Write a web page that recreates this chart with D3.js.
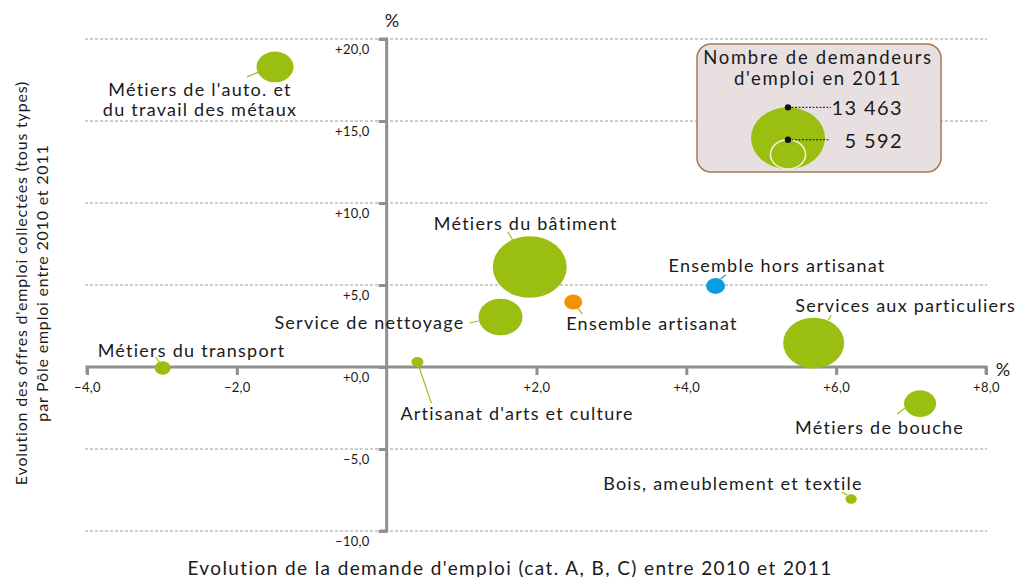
<!DOCTYPE html>
<html><head><meta charset="utf-8">
<script src="https://cdn.jsdelivr.net/npm/d3@7"></script>
<style>body{margin:0;background:#fff}svg{display:block}text{font-family:Lato,"Open Sans",sans-serif;fill:#1a1a1a}</style>
</head><body><svg id="c" width="1019" height="577"></svg>
<script>
// ---- data ----
const names = ["Métiers de l'auto. et\ndu travail des métaux","Métiers du bâtiment","Service de nettoyage","Ensemble artisanat","Ensemble hors artisanat","Services aux particuliers","Métiers de bouche","Bois, ameublement et textile","Artisanat d'arts et culture","Métiers du transport"];
const groups = ["metier","metier","metier","artisanat","hors","metier","metier","metier","metier","metier"];
const demandeEvol = [-1.49, 1.91, 1.52, 2.49, 4.39, 5.70, 7.12, 6.20, 0.41, -2.99];
const offresEvol = [18.3, 6.1, 3.05, 3.96, 4.94, 1.46, -2.23, -8.05, 0.3, -0.06];
const demandeurs = [5960, 13463, 7310, 2555, 2720, 10730, 5020, 1500, 1585, 2220];
const xTicks = [-4, -2, 2, 4, 6, 8];
const yTicks = [20, 15, 10, 5, 0, -5, -10];
const legendValues = [13463, 5592];
const legendLabels = ["13 463", "5 592"];

// ---- layout (label offsets relative to bubble centre) ----
const labelLayout = [
  {dx:-75, dy:22, anchor:"middle", lh:20, l:[-28,10,-16,5]},
  {dx:-96, dy:-44, anchor:"start", l:[-22,-35,-17,-27]},
  {dx:-36, dy:5, anchor:"end", l:[-31,6,-22,4]},
  {dx:-7, dy:21, anchor:"start", l:[4,5,9,12]},
  {dx:61.5, dy:-21, anchor:"middle", l:[5,-7,10,-11]},
  {dx:-18.5, dy:-38, anchor:"start", l:[17.5,-28,14.5,-23]},
  {dx:-125, dy:23.5, anchor:"start", l:[-23,10.5,-15,4.5]},
  {dx:-248, dy:-16, anchor:"start", l:[-9,-7,-4,-4]},
  {dx:-17, dy:51, anchor:"start", l:[0,0,14,41]},
  {dx:-65, dy:-18, anchor:"start", l:[-7,-11,-2,-4]}
];
const colorOf = {metier:"#9bbf10", artisanat:"#f39200", hors:"#0b9ddf"};
const stretch = 1.2;

const svg = d3.select("#c");
const x = d3.scaleLinear().domain([-4, 8]).range([87, 986]);
const y = d3.scaleLinear().domain([-10, 20]).range([531, 39]);
const r = d3.scalePow().exponent(0.85).domain([0, 13463]).range([0, 37]);
const axisCol = "#8f8f8f";
const fmt = d => d3.format(".1f")(d).replace(".", ",");

// gridlines
svg.append("g").selectAll("line").data(yTicks.filter(d => d !== 0)).join("line")
  .attr("x1", 85).attr("x2", 987).attr("y1", d => y(d)).attr("y2", d => y(d))
  .attr("stroke", "#9a9a9a").attr("stroke-width", 1).attr("stroke-dasharray", "3,2");

// x axis
const gx = svg.append("g").attr("transform", `translate(0,${y(0)})`)
  .call(d3.axisBottom(x).tickValues(xTicks).tickSize(8).tickFormat(d => (d > 0 ? "+" : "") + fmt(d)));
gx.select(".domain").attr("stroke", axisCol).attr("stroke-width", 3).attr("d", `M${x(-4)},7V0H${x(8)}V7`);
gx.selectAll(".tick line").attr("stroke", axisCol).attr("stroke-width", 3);
gx.selectAll(".tick text").attr("dy", "1.1em").style("font-family", "Lato").style("font-size", "13px").style("letter-spacing", "0.3px").attr("fill", "#1a1a1a");

// y axis
const gy = svg.append("g").attr("transform", `translate(${x(0)},0)`)
  .call(d3.axisLeft(y).tickValues(yTicks).tickSize(8).tickFormat(d => (d >= 0 ? "+" : "") + fmt(d)));
gy.select(".domain").attr("stroke", axisCol).attr("stroke-width", 3).attr("d", `M-7,${y(20)}H0V${y(-10)}H-7`);
gy.selectAll(".tick line").attr("stroke", axisCol).attr("stroke-width", 3);
gy.selectAll(".tick text").attr("x", -17).attr("dy", "1.1em").style("font-family", "Lato").style("font-size", "13px").style("letter-spacing", "0.3px").attr("fill", "#1a1a1a");

svg.append("text").attr("x", 392).attr("y", 20).attr("text-anchor", "middle").attr("dominant-baseline", "central").style("font-size", "18px").text("%");
svg.append("text").attr("x", 1003).attr("y", 369).attr("text-anchor", "middle").attr("dominant-baseline", "central").style("font-size", "18px").text("%");

// bubbles
const pts = names.map((n, i) => ({n, g: groups[i], x: demandeEvol[i], y: offresEvol[i], v: demandeurs[i], L: labelLayout[i]}));
const gb = svg.append("g");
pts.forEach(p => {
  const cx = x(p.x), cy = y(p.y), col = colorOf[p.g];
  gb.append("line").attr("x1", cx + p.L.l[0]).attr("y1", cy + p.L.l[1]).attr("x2", cx + p.L.l[2]).attr("y2", cy + p.L.l[3])
    .attr("stroke", col).attr("stroke-width", 1.2);
});
gb.selectAll("ellipse").data(pts.slice().sort((a, b) => b.v - a.v)).join("ellipse")
  .attr("cx", d => x(d.x)).attr("cy", d => y(d.y))
  .attr("rx", d => r(d.v)).attr("ry", d => r(d.v) / stretch)
  .attr("fill", d => colorOf[d.g]);
pts.forEach(p => {
  const cx = x(p.x), cy = y(p.y);
  const lines = p.n.split("\n");
  const t = gb.append("text").attr("text-anchor", p.L.anchor).style("font-size", "18px").style("letter-spacing", "1.25px");
  lines.forEach((ln, k) => t.append("tspan").attr("x", cx + p.L.dx).attr("y", cy + p.L.dy + k * (p.L.lh || 0)).attr("dominant-baseline", "central").text(ln));
});

// legend
const lg = svg.append("g");
lg.append("rect").attr("x", 697).attr("y", 44).attr("width", 244).attr("height", 128).attr("rx", 14)
  .attr("fill", "#e8e0e0").attr("stroke", "#a77a52").attr("stroke-width", 1.5);
lg.append("text").attr("x", 818).attr("y", 57).attr("text-anchor", "middle").attr("dominant-baseline", "central").style("font-size", "18.5px").style("letter-spacing", "1.7px").text("Nombre de demandeurs");
lg.append("text").attr("x", 818).attr("y", 78).attr("text-anchor", "middle").attr("dominant-baseline", "central").style("font-size", "18.5px").style("letter-spacing", "1.7px").text("d'emploi en 2011");
const lcx = 788, lbottom = 169;
legendValues.forEach((v, i) => {
  const rx = r(v), ry = rx / stretch;
  lg.append("ellipse").attr("cx", lcx).attr("cy", lbottom - ry).attr("rx", rx).attr("ry", ry)
    .attr("fill", i === 0 ? colorOf.metier : "none").attr("stroke", i === 0 ? "none" : "#f2f2e0").attr("stroke-width", 1.5);
});
legendValues.forEach((v, i) => {
  const ty = lbottom - 2 * r(v) / stretch;
  lg.append("line").attr("x1", lcx).attr("x2", i === 0 ? 831 : 829).attr("y1", ty).attr("y2", ty)
    .attr("stroke", "#111").attr("stroke-width", 1).attr("stroke-dasharray", "2,1.5");
  lg.append("circle").attr("cx", lcx).attr("cy", ty).attr("r", 3.2).attr("fill", "#111");
  lg.append("text").attr("x", 903).attr("y", ty).attr("text-anchor", "end").attr("dominant-baseline", "central").style("font-size", "20px").style("letter-spacing", "1.4px").text(legendLabels[i]);
});

// axis titles
svg.append("text").attr("x", 510).attr("y", 567).attr("text-anchor", "middle").attr("dominant-baseline", "central").style("font-size", "19px").style("letter-spacing", "1.4px")
  .text("Evolution de la demande d'emploi (cat. A, B, C) entre 2010 et 2011");
const yt = svg.append("text").attr("transform", "translate(0,283) rotate(-90)").attr("text-anchor", "middle").style("font-size", "16px").style("letter-spacing", "0.8px");
yt.append("tspan").attr("x", 0).attr("y", 20).attr("dominant-baseline", "central").text("Evolution des offres d'emploi collectées (tous types)");
yt.append("tspan").attr("x", 0).attr("y", 41).attr("dominant-baseline", "central").text("par Pôle emploi entre 2010 et 2011");
</script></body></html>
